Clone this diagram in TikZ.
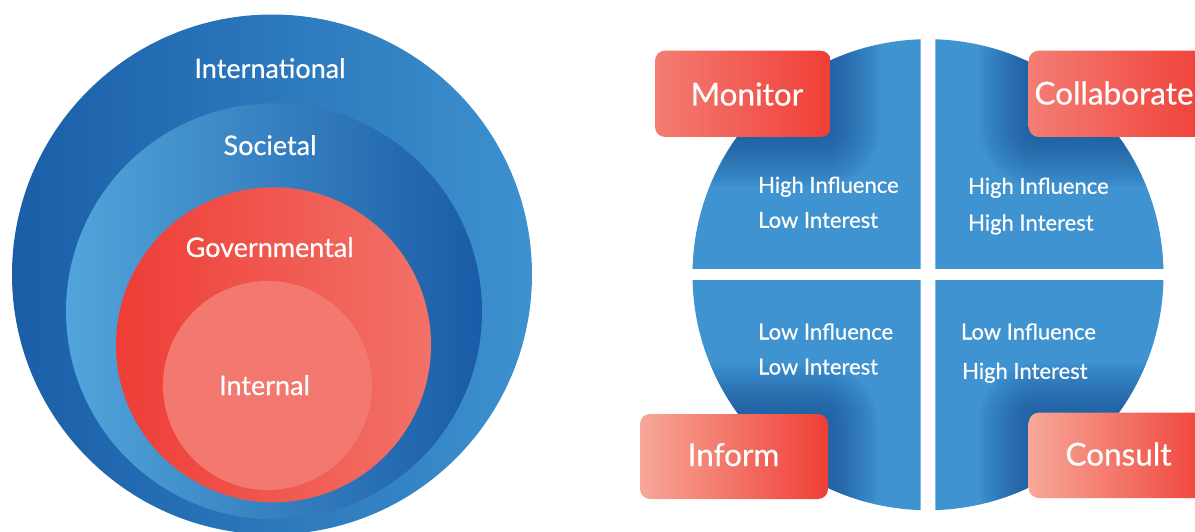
\documentclass[tikz,border=0pt]{standalone}
\usepackage{fontspec}
\setmainfont{Lato}[FakeBold=0.5]
\definecolor{outL}{HTML}{1A5EA8}
\definecolor{outR}{HTML}{3D91CF}
\definecolor{socL}{HTML}{52A5DA}
\definecolor{socM}{HTML}{4896CF}
\definecolor{socR}{HTML}{1A5CA7}
\definecolor{govL}{HTML}{EE3D36}
\definecolor{govR}{HTML}{F27268}
\definecolor{intC}{HTML}{F3786F}
\definecolor{quad}{HTML}{3F93D0}
\definecolor{shad}{HTML}{1A4F94}
\definecolor{boxA}{HTML}{F47D74}
\definecolor{boxAM}{HTML}{F16359}
\definecolor{boxB}{HTML}{F7A898}
\definecolor{boxBM}{HTML}{F4907F}
\definecolor{boxR}{HTML}{EF3E36}
\tikzset{
  lbl/.style={text=white, font=\fontsize{27}{32}\selectfont, inner sep=0pt, anchor=base},
  qtxt/.style={text=white, font=\fontsize{22}{26}\selectfont, inner sep=0pt, anchor=base west},
  btxt/.style={text=white, font=\fontsize{31.5}{36}\selectfont, inner sep=0pt, anchor=base},
  boxtop/.style={rounded corners=10pt, left color=boxA, middle color=boxAM, right color=boxR, draw=none, inner sep=0pt},
  boxbot/.style={rounded corners=10pt, left color=boxB, middle color=boxBM, right color=boxR, draw=none, inner sep=0pt},
  quadfill/.style={fill=quad},
}
\newcommand{\boxglow}[4]{%
  \foreach \d in {2,4,...,50}{%
    \pgfmathsetmacro{\rc}{10+\d}%
    \fill[shad, opacity=0.034, rounded corners=\rc pt] ({#1-\d},{#2-\d}) rectangle ({#3+\d},{#4+\d});
  }%
}
\begin{document}
\begin{tikzpicture}[x=1pt,y=-1pt]
\useasboundingbox (0,0) rectangle (1195,532);
\clip (0,0) rectangle (1195,532);
% ---------- left: concentric circles ----------
\shade[left color=outL, right color=outR] (272,274.5) circle[radius=260pt];
\shade[left color=socL, middle color=socM, right color=socR] (274,311.3) circle[radius=208pt];
\shade[left color=govL, right color=govR] (273.5,344.8) circle[radius=157.5pt];
\fill[intC] (267.5,385.5) circle[radius=104.5pt];
\node[lbl] (intl) at (270,78) {International};
\node[lbl] (soc) at (270,155) {Societal};
\node[lbl] (gov) at (269.6,257) {Governmental};
\node[lbl] (int) at (264.5,395) {Internal};
% ---------- right: quadrant circle ----------
\begin{scope}
  \clip (600,0) rectangle (920.7,268.7);
  \clip (928,274.7) circle[radius=235.5pt];
  \fill[quadfill] (600,0) rectangle (1195,532);
  \boxglow{655}{50.7}{830.7}{137}
\end{scope}
\begin{scope}
  \clip (935.3,0) rectangle (1195,268.7);
  \clip (928,274.7) circle[radius=235.5pt];
  \fill[quadfill] (600,0) rectangle (1195,532);
  \boxglow{1028.7}{50.7}{1215}{137}
\end{scope}
\begin{scope}
  \clip (600,280.7) rectangle (920.7,532);
  \clip (928,274.7) circle[radius=235.5pt];
  \fill[quadfill] (600,0) rectangle (1195,532);
  \boxglow{640}{414}{828}{499}
\end{scope}
\begin{scope}
  \clip (935.3,280.7) rectangle (1195,532);
  \clip (928,274.7) circle[radius=235.5pt];
  \fill[quadfill] (600,0) rectangle (1195,532);
  \boxglow{1028.7}{412.7}{1215}{498}
\end{scope}
% quadrant texts
\node[qtxt] (tl1) at (758,192.8) {High Influence};
\node[qtxt] (tl2) at (758,227.8) {Low Interest};
\node[qtxt] (tr1) at (968,193.8) {High Influence};
\node[qtxt] (tr2) at (968,230.5) {High Interest};
\node[qtxt] (bl1) at (758,339.5) {Low Influence};
\node[qtxt] (bl2) at (758,374.5) {Low Interest};
\node[qtxt] (br1) at (960.8,339.5) {Low Influence};
\node[qtxt] (br2) at (962,378.8) {High Interest};
% boxes
\node[boxtop, minimum width=175.7pt, minimum height=86.3pt] (monbox) at (742.85,93.85) {};
\node[boxtop, minimum width=186.3pt, minimum height=86.3pt] (colbox) at (1121.85,93.85) {};
\node[boxbot, minimum width=188pt, minimum height=85pt] (infbox) at (734,456.5) {};
\node[boxbot, minimum width=186.3pt, minimum height=85.3pt] (conbox) at (1121.85,455.35) {};
\node[btxt] (mon) at (747,105.5) {Monitor};
\node[btxt] (col) at (1114,104.5) {Collaborate};
\node[btxt] (inf) at (733.5,466) {Inform};
\node[btxt] (con) at (1118.5,465.5) {Consult};
\end{tikzpicture}
\end{document}
